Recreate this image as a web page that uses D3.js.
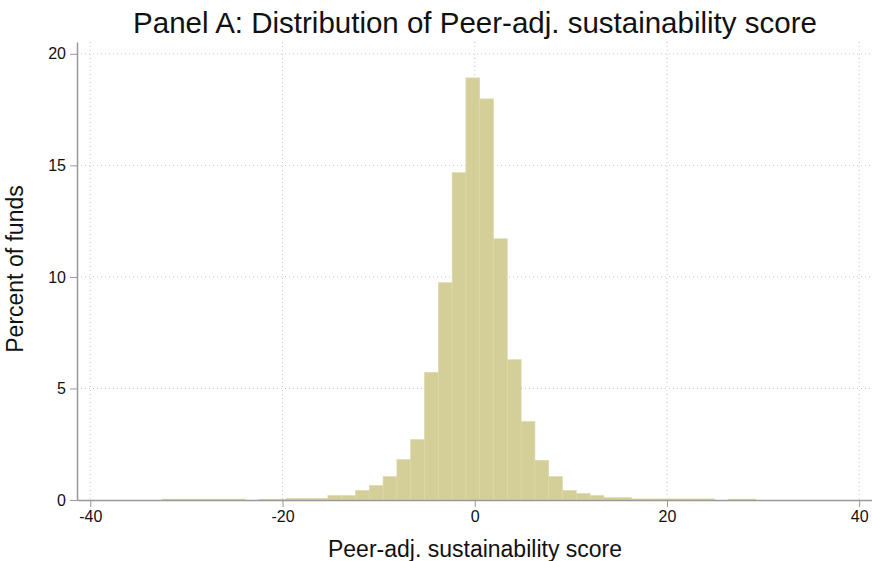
<html>
<head>
<meta charset="utf-8">
<style>
  body { margin: 0; background: #fff; }
  svg text { font-family: "Liberation Sans", Arial, sans-serif; fill: #111; }
  .grid line { stroke: #c8c8c8; stroke-dasharray: 1,3; stroke-width: 1; }
  .axis path, .axis line { stroke: #999; }
  .axis text { font-size: 16px; fill: #111; }
  .bar { fill: #d4cf98; stroke: #dcd8aa; stroke-width: 0.6; }
</style>
<script src="https://d3js.org/d3.v7.min.js"></script>
</head>
<body>
<svg width="872" height="561"></svg>
<script>
// histogram bins: start, width and percent in each bin
var binStart = -32.51;
var binWidth = 1.436;
var percents = [
  0.04, 0.04, 0.04, 0.04, 0.04, 0.04, 0.00, 0.02, 0.02, 0.07,
  0.07, 0.07, 0.20, 0.20, 0.43, 0.65, 1.05, 1.81, 2.71, 5.72,
  9.74, 14.67, 18.92, 17.98, 11.71, 6.29, 3.52, 1.78, 1.05, 0.43,
  0.29, 0.20, 0.11, 0.11, 0.05, 0.05, 0.05, 0.05, 0.05, 0.05,
  0.00, 0.04, 0.04
];
var xTicks = [-40, -20, 0, 20, 40];
var yTicks = [0, 5, 10, 15, 20];

var margin = { top: 42, right: 0, bottom: 61, left: 77 };
var svg = d3.select("svg");
var width = 872 - margin.left - margin.right;
var height = 561 - margin.top - margin.bottom;

var x = d3.scaleLinear().domain([-41.38, 41.33]).range([0, width]);
var y = d3.scaleLinear().domain([0, 20.53]).range([height, 0]);

var g = svg.append("g").attr("transform", "translate(" + margin.left + "," + margin.top + ")");

// dotted grid
g.append("g").attr("class", "grid")
  .selectAll("line").data(yTicks.filter(function(d) { return d > 0; }))
  .enter().append("line")
  .attr("x1", 0).attr("x2", width)
  .attr("y1", function(d) { return y(d); }).attr("y2", function(d) { return y(d); });
g.append("g").attr("class", "grid")
  .selectAll("line").data(xTicks)
  .enter().append("line")
  .attr("y1", 0).attr("y2", height)
  .attr("x1", function(d) { return x(d); }).attr("x2", function(d) { return x(d); });

// bars
g.selectAll(".bar").data(percents.map(function(p, i) {
    return { x0: binStart + i * binWidth, x1: binStart + (i + 1) * binWidth, p: p };
  }).filter(function(d) { return d.p > 0; }))
  .enter().append("rect")
  .attr("class", "bar")
  .attr("x", function(d) { return x(d.x0); })
  .attr("width", function(d) { return x(d.x1) - x(d.x0); })
  .attr("y", function(d) { return y(d.p); })
  .attr("height", function(d) { return height - y(d.p); });

// axes (plain hyphen for negatives, as in the original)
var fmt = function(d) { return String(d); };
var xAxis = g.append("g").attr("class", "axis")
  .attr("transform", "translate(0," + height + ")")
  .call(d3.axisBottom(x).tickValues(xTicks).tickFormat(fmt).tickSize(7).tickPadding(4).tickSizeOuter(0));
xAxis.select(".domain").attr("stroke-width", 1.5);

var yAxis = g.append("g").attr("class", "axis")
  .call(d3.axisLeft(y).tickValues(yTicks).tickFormat(fmt).tickSize(7).tickPadding(4).tickSizeOuter(0));
yAxis.select(".domain").attr("stroke-width", 1.5);

// labels
svg.append("text")
  .attr("x", 475).attr("y", 33)
  .attr("text-anchor", "middle")
  .style("font-size", "29.5px")
  .text("Panel A: Distribution of Peer-adj. sustainability score");

svg.append("text")
  .attr("x", 475).attr("y", 557)
  .attr("text-anchor", "middle")
  .style("font-size", "23px")
  .text("Peer-adj. sustainability score");

svg.append("text")
  .attr("transform", "translate(23,269) rotate(-90)")
  .attr("text-anchor", "middle")
  .style("font-size", "23px")
  .text("Percent of funds");
</script>
</body>
</html>
